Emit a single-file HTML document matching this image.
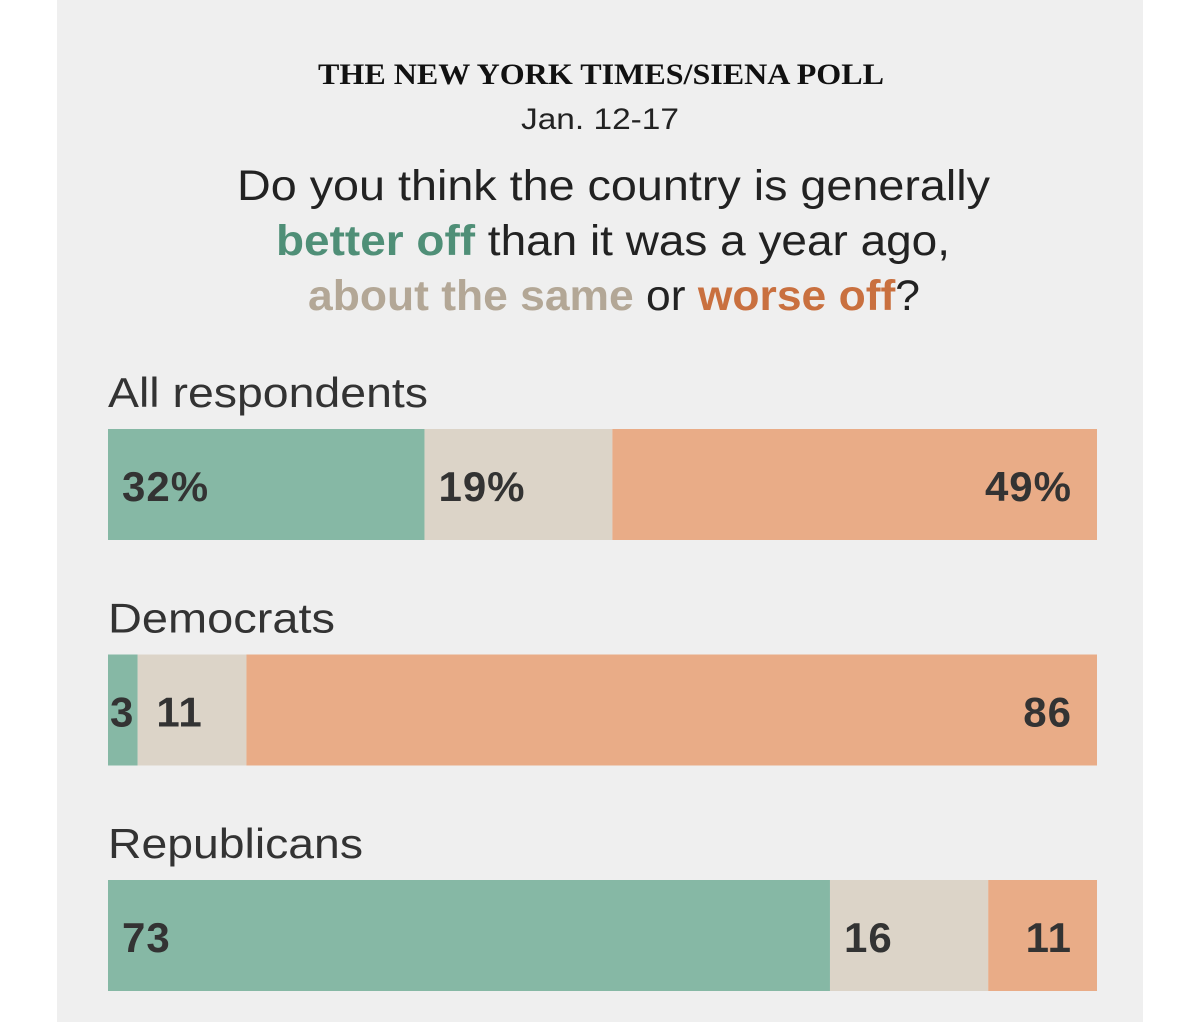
<!DOCTYPE html>
<html><head><meta charset="utf-8"><style>
body{margin:0;background:#fff;width:1200px;height:1022px;overflow:hidden}
svg{display:block}
</style></head><body>
<svg width="1200" height="1022" xmlns="http://www.w3.org/2000/svg" id="chart">
<rect x="57" y="0" width="1086" height="1022" fill="#efefef"/>
<text x="318" y="84" textLength="566" lengthAdjust="spacingAndGlyphs" font-family="Liberation Serif, serif" font-weight="bold" font-size="30" fill="#111">THE NEW YORK TIMES/SIENA POLL</text>
<text x="521" y="129" textLength="158" lengthAdjust="spacingAndGlyphs" font-family="Liberation Sans, sans-serif" font-size="30" fill="#222">Jan. 12-17</text>
<g font-family="Liberation Sans, sans-serif" font-size="43" fill="#222">
<text x="237" y="200" textLength="753" lengthAdjust="spacingAndGlyphs">Do you think the country is generally</text>
<text x="276" y="255" textLength="674" lengthAdjust="spacingAndGlyphs"><tspan fill="#4f8f77" font-weight="bold">better off</tspan> than it was a year ago,</text>
<text x="308" y="310" textLength="612" lengthAdjust="spacingAndGlyphs"><tspan fill="#b3a796" font-weight="bold">about the same</tspan> or <tspan fill="#c9703f" font-weight="bold">worse off</tspan>?</text>
</g>
<g id="bars"></g>
</svg>
<script>
const groups = ["All respondents", "Democrats", "Republicans"];
const betterOff = [32, 3, 73];
const aboutSame = [19, 11, 16];
const worseOff = [49, 86, 11];
const valueSuffix = ["%", "", ""];
const labelWidths = [320, 227, 255];
const X0 = 108, W = 989;
const xScale = v => X0 + v / 100 * W;
const colors = ["#86b8a5", "#dcd4c8", "#e9ac87"];
const segNames = ["better-off", "about-same", "worse-off"];
const NS = "http://www.w3.org/2000/svg";
const g = document.getElementById("bars");
groups.forEach((name, i) => {
  const top = 429 + i * 225.5;
  const lab = document.createElementNS(NS, "text");
  lab.setAttribute("x", 108); lab.setAttribute("y", top - 22);
  lab.setAttribute("font-family", "Liberation Sans, sans-serif");
  lab.setAttribute("font-size", "42"); lab.setAttribute("fill", "#333");
  lab.setAttribute("textLength", labelWidths[i]);
  lab.setAttribute("lengthAdjust", "spacingAndGlyphs");
  lab.textContent = name;
  
  
  g.appendChild(lab);
  const vals = [betterOff[i], aboutSame[i], worseOff[i]];
  let cum = 0, prevEnd = 0;
  vals.forEach((v, k) => {
    const x1 = xScale(cum), x2 = xScale(cum + v);
    const r = document.createElementNS(NS, "rect");
    r.setAttribute("x", x1); r.setAttribute("y", top);
    r.setAttribute("width", x2 - x1); r.setAttribute("height", 111);
    r.setAttribute("fill", colors[k]);
    
    
    g.appendChild(r);
    const t = document.createElementNS(NS, "text");
    t.setAttribute("y", top + 72);
    t.setAttribute("font-family", "Liberation Sans, sans-serif");
    t.setAttribute("font-weight", "bold");
    t.setAttribute("font-size", "42"); t.setAttribute("fill", "#333");
    t.setAttribute("letter-spacing", "1");
    t.textContent = v + valueSuffix[i];
    if (k === 2) {
      t.setAttribute("x", X0 + W - 25); t.setAttribute("text-anchor", "end");
    } else {
      let x = (x2 - x1 < 40) ? x1 + 2 : x1 + 14;
      x = Math.max(x, prevEnd + 22);
      t.setAttribute("x", x);
    }
    
    
    g.appendChild(t);
    if (k !== 2) prevEnd = t.getBBox().x + t.getBBox().width;
    cum += v;
  });
});
</script>
</body></html>
